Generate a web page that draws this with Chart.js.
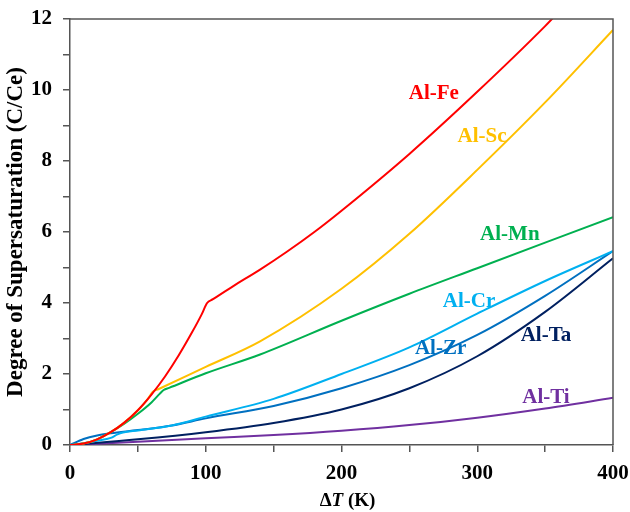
<!DOCTYPE html>
<html>
<head>
<meta charset="utf-8">
<script src="https://cdn.jsdelivr.net/npm/chart.js@4.4.1/dist/chart.umd.min.js"></script>
<style>
    html, body { margin: 0; padding: 0; background: #fff; }
    #wrap { width: 630px; height: 512px; position: relative; }
</style>
</head>
<body>
<div id="wrap"><canvas id="chart"></canvas></div>
<script>
// Data
const seriesNames = ['Al-Fe', 'Al-Sc', 'Al-Mn', 'Al-Cr', 'Al-Zr', 'Al-Ta', 'Al-Ti'];

const feX = [0, 10, 20, 30, 40, 50, 60, 70, 80, 90, 97, 101, 105, 120, 140, 160, 180, 200, 250, 300, 350, 360];
const feY = [0, 0.04, 0.16, 0.36, 0.63, 0.98, 1.42, 1.93, 2.52, 3.18, 3.68, 4.0, 4.1, 4.47, 4.94, 5.45, 6.0, 6.6, 8.2, 9.95, 11.8, 12.2];

const scX = [0, 10, 20, 30, 40, 50, 57, 61, 65, 100, 140, 200, 250, 300, 350, 400];
const scY = [0, 0.04, 0.16, 0.36, 0.63, 0.98, 1.28, 1.5, 1.57, 2.2, 2.92, 4.4, 5.95, 7.75, 9.65, 11.69];

const mnX = [0, 10, 20, 30, 40, 50, 60, 66, 69, 73, 100, 140, 200, 250, 300, 350, 400];
const mnY = [0, 0.04, 0.16, 0.36, 0.6, 0.88, 1.2, 1.44, 1.55, 1.61, 2.02, 2.55, 3.5, 4.26, 4.98, 5.7, 6.42];

const crX = [0, 10, 20, 30, 35, 39, 50, 75, 100, 150, 200, 250, 300, 350, 400];
const crY = [0, 0.05, 0.12, 0.2, 0.3, 0.35, 0.41, 0.55, 0.8, 1.3, 2.0, 2.75, 3.7, 4.62, 5.46];

const zrX = [0, 10, 20, 30, 50, 75, 100, 150, 200, 250, 300, 350, 400];
const zrY = [0, 0.17, 0.27, 0.33, 0.42, 0.55, 0.75, 1.1, 1.6, 2.25, 3.1, 4.2, 5.46];

const taX = [0, 50, 100, 150, 200, 250, 300, 350, 400];
const taY = [0, 0.16, 0.36, 0.62, 1.0, 1.6, 2.5, 3.75, 5.26];

const tiX = [0, 50, 100, 150, 200, 250, 300, 350, 400];
const tiY = [0, 0.09, 0.19, 0.28, 0.40, 0.56, 0.77, 1.03, 1.33];

const xTicks = [0, 100, 200, 300, 400];
const yTicks = [0, 2, 4, 6, 8, 10, 12];

// Styling
const colors = ['#ff0000', '#ffc000', '#00b050', '#00b0f0', '#0070c0', '#002060', '#7030a0'];
const FONT = "'Liberation Serif', 'Times New Roman', serif";

// Where the series names sit, in data units
const labelAnchors = [
    [268, 9.91], [303.5, 8.7], [324, 5.93], [294, 4.04], [273, 2.72], [350.6, 3.08], [350.6, 1.33]
];

function toPoints(xs, ys) {
    return xs.map((x, i) => ({ x: x, y: ys[i] }));
}

const seriesData = [
    toPoints(feX, feY), toPoints(scX, scY), toPoints(mnX, mnY), toPoints(crX, crY),
    toPoints(zrX, zrY), toPoints(taX, taY), toPoints(tiX, tiY)
];

// draw frame, series names and x title
const decorPlugin = {
    id: 'decor',
    afterDatasetsDraw(chart) {
        const { ctx, chartArea, scales } = chart;
        ctx.save();
        ctx.strokeStyle = '#555';
        ctx.lineWidth = 1.5;
        ctx.beginPath();
        ctx.moveTo(chartArea.left, chartArea.top);
        ctx.lineTo(chartArea.right, chartArea.top);
        ctx.lineTo(chartArea.right, chartArea.bottom);
        ctx.stroke();

        ctx.font = 'bold 21px ' + FONT;
        ctx.textAlign = 'center';
        ctx.textBaseline = 'middle';
        seriesNames.forEach((name, i) => {
            const [lx, ly] = labelAnchors[i];
            ctx.fillStyle = colors[i];
            ctx.fillText(name, scales.x.getPixelForValue(lx), scales.y.getPixelForValue(ly));
        });

        // x axis title: ΔT (K) with italic T
        const parts = [['Δ', 'bold 19px '], ['T', 'italic bold 19px '], [' (K)', 'bold 19px ']];
        let total = 0;
        parts.forEach(p => { ctx.font = p[1] + FONT; total += ctx.measureText(p[0]).width; });
        let x = (chartArea.left + chartArea.right) / 2 + 6 - total / 2;
        const y = 501;
        ctx.fillStyle = '#000';
        ctx.textAlign = 'left';
        parts.forEach(p => {
            ctx.font = p[1] + FONT;
            ctx.fillText(p[0], x, y);
            x += ctx.measureText(p[0]).width;
        });
        ctx.restore();
    }
};

const chart = new Chart(document.getElementById('chart'), {
    type: 'line',
    data: {
        datasets: seriesNames.map((name, i) => ({
            label: name,
            data: seriesData[i],
            borderColor: colors[i],
            borderWidth: 2,
            pointRadius: 0,
            fill: false,
            cubicInterpolationMode: 'monotone'
        }))
    },
    options: {
        responsive: true,
        maintainAspectRatio: false,
        animation: false,
        layout: { padding: { top: 19, right: 17, left: 0, bottom: 0 } },
        plugins: {
            legend: { display: false },
            tooltip: { enabled: false }
        },
        scales: {
            x: {
                type: 'linear',
                min: 0,
                max: 400,
                afterFit(scale) {
                    scale.height = 67;
                    scale.paddingLeft = 0;
                    scale.paddingRight = 0;
                },
                afterBuildTicks(scale) {
                    const t = [];
                    for (let v = 0; v <= 400; v += 50) t.push({ value: v });
                    scale.ticks = t;
                },
                grid: { drawOnChartArea: false, drawTicks: true, tickLength: 7, color: '#555', lineWidth: 1.5 },
                border: { display: true, color: '#555', width: 1.5 },
                ticks: {
                    color: '#000',
                    padding: 9,
                    maxRotation: 0,
                    autoSkip: false,
                    font: { family: FONT, size: 21, weight: 'bold' },
                    callback: v => xTicks.includes(v) ? String(v) : ''
                },
                title: { display: false }
            },
            y: {
                min: 0,
                max: 12,
                afterFit(scale) {
                    scale.width = 70;
                    scale.paddingTop = 0;
                    scale.paddingBottom = 0;
                },
                afterBuildTicks(scale) {
                    const t = [];
                    for (let v = 0; v <= 12; v += 1) t.push({ value: v });
                    scale.ticks = t;
                },
                grid: { drawOnChartArea: false, drawTicks: true, tickLength: 7, color: '#555', lineWidth: 1.5 },
                border: { display: true, color: '#555', width: 1.5 },
                ticks: {
                    color: '#000',
                    padding: 11,
                    autoSkip: false,
                    font: { family: FONT, size: 21, weight: 'bold' },
                    callback: v => yTicks.includes(v) ? String(v) : ''
                },
                title: {
                    display: true,
                    text: 'Degree of Supersaturation (C/Ce)',
                    color: '#000',
                    padding: { top: 2, bottom: 0 },
                    font: { family: FONT, size: 23, weight: 'bold' }
                }
            }
        }
    },
    plugins: [decorPlugin]
});
</script>
</body>
</html>
